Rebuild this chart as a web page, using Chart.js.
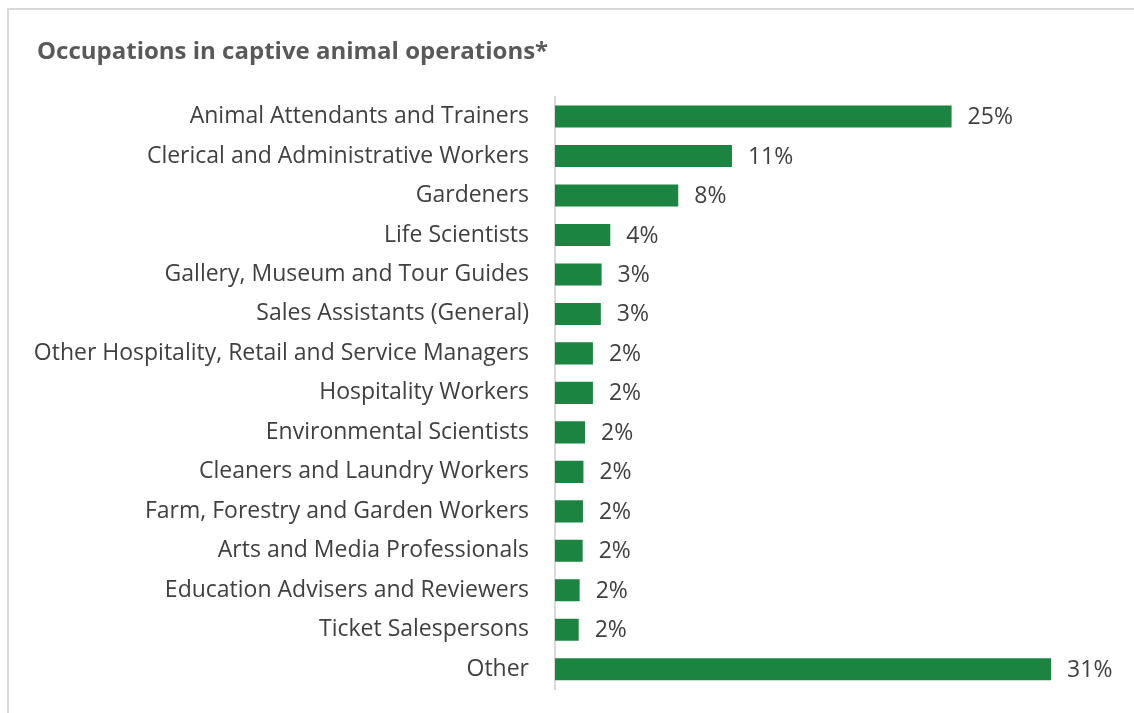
<!DOCTYPE html>
<html>
<head>
<meta charset="utf-8">
<script src="https://cdn.jsdelivr.net/npm/chart.js@4/dist/chart.umd.min.js"></script>
<style>
  html, body { margin: 0; padding: 0; background: #fff; }
  body { width: 1134px; height: 713px; overflow: hidden; position: relative; }
  .frame { position: absolute; left: 7px; top: 8px; width: 1200px; height: 800px;
           border-left: 2px solid #d9d9d9; border-top: 2px solid #d9d9d9; }
  #occChart { position: absolute; left: 0; top: 0; }
</style>
</head>
<body>
<div class="frame"></div>
<canvas id="occChart" width="1134" height="713"></canvas>
<script>
// categories, top to bottom
var occupations = [
	"Animal Attendants and Trainers",
	"Clerical and Administrative Workers",
	"Gardeners",
	"Life Scientists",
	"Gallery, Museum and Tour Guides",
	"Sales Assistants (General)",
	"Other Hospitality, Retail and Service Managers",
	"Hospitality Workers",
	"Environmental Scientists",
	"Cleaners and Laundry Workers",
	"Farm, Forestry and Garden Workers",
	"Arts and Media Professionals",
	"Education Advisers and Reviewers",
	"Ticket Salespersons",
	"Other"
];
// share of workers, %
var shares = [25.1, 11.2, 7.8, 3.5, 2.95, 2.9, 2.4, 2.4, 1.9, 1.8, 1.77, 1.75, 1.56, 1.5, 31.4];

var fontFam = "'Open Sans', 'Noto Sans', sans-serif";

// writes the value at the end of each bar
var valueLabels = {
	id: "valueLabels",
	afterLayout: function(chart) {
		// let the long category names run past the title indent without being clipped
		chart.scales.y.left = 0;
	},
	afterDatasetsDraw: function(chart) {
		var ctx = chart.ctx;
		var meta = chart.getDatasetMeta(0);
		ctx.save();
		ctx.font = "23px " + fontFam;
		ctx.fillStyle = "#404040";
		ctx.textAlign = "left";
		ctx.textBaseline = "middle";
		for (var i = 0; i < meta.data.length; i++) {
			var bar = meta.data[i];
			ctx.fillText(Math.round(shares[i]) + "%", bar.x + 16, bar.y + 1);
		}
		ctx.restore();
	}
};

var ctx = document.getElementById("occChart").getContext("2d");
new Chart(ctx, {
	type: "bar",
	data: {
		labels: occupations,
		datasets: [{
			data: shares,
			backgroundColor: "#1a8440",
			borderWidth: 0,
			categoryPercentage: 1,
			barPercentage: 0.56
		}]
	},
	options: {
		indexAxis: "y",
		responsive: false,
		animation: false,
		devicePixelRatio: 1,
		layout: { padding: { left: 37, right: 26, top: 0, bottom: 24 } },
		plugins: {
			legend: { display: false },
			tooltip: { enabled: false },
			title: {
				display: true,
				text: "Occupations in captive animal operations*",
				align: "start",
				color: "#595959",
				font: { family: fontFam, size: 24, weight: "bold" },
				padding: { top: 38, bottom: 30 }
			}
		},
		scales: {
			x: { display: false, min: 0, max: 35 },
			y: {
				afterFit: function(scale) { scale.width = 518; },
				grid: { display: false, drawTicks: true, tickLength: 26 },
				border: { display: true, color: "#d9d9d9", width: 2 },
				ticks: {
					color: "#404040",
					padding: 0,
					autoSkip: false,
					font: { family: fontFam, size: 23 }
				}
			}
		}
	},
	plugins: [valueLabels]
});
</script>
</body>
</html>
